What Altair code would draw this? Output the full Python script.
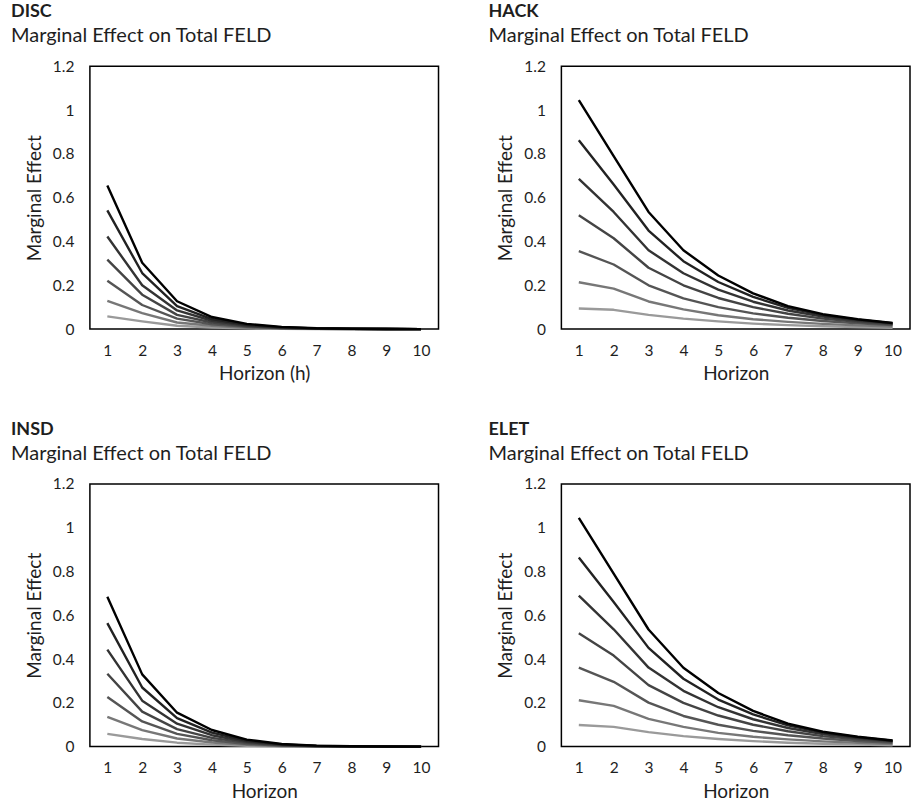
import altair as alt
import pandas as pd

HORIZON = [1, 2, 3, 4, 5, 6, 7, 8, 9, 10]
SERIES = ["s1", "s2", "s3", "s4", "s5", "s6", "s7"]  # lightest -> darkest
GRAYS = ["#9a9a9a", "#777777", "#555555", "#444444", "#333333", "#222222", "#000000"]

DISC = [
    [0.058, 0.035, 0.015, 0.007, 0.003, 0.0015, 0.0007, 0.0003, 0.0001, 0.0],
    [0.129, 0.073, 0.030, 0.015, 0.006, 0.003, 0.0012, 0.0005, 0.0002, 0.0],
    [0.221, 0.110, 0.048, 0.022, 0.010, 0.004, 0.0017, 0.0007, 0.0003, 0.0],
    [0.317, 0.157, 0.065, 0.030, 0.013, 0.005, 0.0022, 0.0009, 0.0004, 0.0],
    [0.423, 0.200, 0.085, 0.038, 0.016, 0.007, 0.0027, 0.0011, 0.0004, 0.0],
    [0.542, 0.256, 0.105, 0.046, 0.020, 0.008, 0.0032, 0.0013, 0.0005, 0.0],
    [0.656, 0.303, 0.127, 0.055, 0.024, 0.010, 0.0040, 0.0016, 0.0006, 0.0],
]

HACK = [
    [0.094, 0.088, 0.065, 0.048, 0.035, 0.025, 0.018, 0.013, 0.009, 0.006],
    [0.214, 0.185, 0.126, 0.090, 0.063, 0.045, 0.033, 0.024, 0.017, 0.012],
    [0.356, 0.295, 0.200, 0.140, 0.100, 0.072, 0.052, 0.037, 0.026, 0.018],
    [0.520, 0.415, 0.280, 0.200, 0.142, 0.100, 0.070, 0.048, 0.033, 0.022],
    [0.686, 0.535, 0.360, 0.255, 0.180, 0.125, 0.085, 0.057, 0.039, 0.025],
    [0.862, 0.660, 0.450, 0.310, 0.215, 0.147, 0.097, 0.064, 0.043, 0.027],
    [1.046, 0.790, 0.535, 0.360, 0.245, 0.163, 0.105, 0.068, 0.045, 0.028],
]

INSD = [
    [0.058, 0.035, 0.018, 0.009, 0.004, 0.002, 0.0008, 0.0003, 0.0001, 0.0],
    [0.136, 0.075, 0.037, 0.019, 0.008, 0.003, 0.0012, 0.0005, 0.0002, 0.0],
    [0.227, 0.115, 0.058, 0.029, 0.012, 0.005, 0.0018, 0.0007, 0.0003, 0.0],
    [0.333, 0.160, 0.080, 0.040, 0.017, 0.006, 0.0024, 0.0009, 0.0004, 0.0],
    [0.443, 0.210, 0.105, 0.052, 0.022, 0.008, 0.0030, 0.0011, 0.0004, 0.0],
    [0.564, 0.270, 0.130, 0.064, 0.027, 0.010, 0.0036, 0.0013, 0.0005, 0.0],
    [0.685, 0.330, 0.155, 0.076, 0.032, 0.012, 0.0045, 0.0016, 0.0006, 0.0],
]

ELET = [
    [0.099, 0.090, 0.066, 0.048, 0.035, 0.025, 0.018, 0.013, 0.009, 0.006],
    [0.212, 0.186, 0.127, 0.090, 0.063, 0.045, 0.033, 0.024, 0.017, 0.012],
    [0.361, 0.296, 0.201, 0.140, 0.100, 0.072, 0.052, 0.037, 0.026, 0.018],
    [0.518, 0.416, 0.281, 0.200, 0.142, 0.100, 0.070, 0.048, 0.033, 0.022],
    [0.690, 0.536, 0.361, 0.255, 0.180, 0.125, 0.085, 0.057, 0.039, 0.025],
    [0.864, 0.661, 0.451, 0.310, 0.215, 0.147, 0.097, 0.064, 0.043, 0.027],
    [1.045, 0.790, 0.535, 0.360, 0.245, 0.163, 0.105, 0.068, 0.045, 0.028],
]

Y_TICKS = [0, 0.2, 0.4, 0.6, 0.8, 1.0, 1.2]
TEXT = "#1e1e1e"
FONT = "Lato"
W, H = 349, 263


def to_frame(values):
    rows = []
    for name, series in zip(SERIES, values):
        for h, v in zip(HORIZON, series):
            rows.append({"h": h, "v": v, "s": name})
    return pd.DataFrame(rows)


def panel(name, values, xtitle, title_dx):
    return (
        alt.Chart(to_frame(values))
        .mark_line(strokeWidth=2.4, interpolate="linear", strokeJoin="round")
        .encode(
            x=alt.X("h:Q", title=xtitle,
                    scale=alt.Scale(domain=[0.5, 10.5], nice=False, zero=False),
                    axis=alt.Axis(values=HORIZON, format="d", grid=False, domain=False,
                                  ticks=False, labelPadding=14, titlePadding=6,
                                  labelFontSize=15.5)),
            y=alt.Y("v:Q", title="Marginal Effect",
                    scale=alt.Scale(domain=[0, 1.2], nice=False),
                    axis=alt.Axis(values=Y_TICKS, format="~g", grid=False, domain=False,
                                  ticks=False, labelPadding=16, titlePadding=8,
                                  labelFontSize=15.5)),
            color=alt.Color("s:N", scale=alt.Scale(domain=SERIES, range=GRAYS), legend=None),
            order=alt.Order("h:Q"),
        )
        .properties(
            width=W, height=H,
            title=alt.Title(text=name, subtitle="Marginal Effect on Total FELD",
                            anchor="start", frame="group", dx=title_dx, offset=13,
                            fontSize=18, fontWeight="bold", color=TEXT,
                            subtitleFontSize=20, subtitleColor=TEXT, subtitlePadding=5,
                            font=FONT, subtitleFont=FONT),
        )
    )


row1 = alt.hconcat(panel("DISC", DISC, "Horizon (h)", -79), panel("HACK", HACK, "Horizon", -73),
                   spacing=123, bounds="flush")
row2 = alt.hconcat(panel("INSD", INSD, "Horizon", -79), panel("ELET", ELET, "Horizon", -73),
                   spacing=123, bounds="flush")

chart = (
    alt.vconcat(row1, row2, spacing=35)
    .properties(padding={"left": 10, "top": 2, "right": 0, "bottom": 0})
    .configure(font=FONT)
    .configure_view(stroke="#000000", strokeWidth=1.5)
    .configure_axis(labelFont=FONT, titleFont=FONT, titleFontSize=19,
                    labelColor=TEXT, titleColor=TEXT, titleFontWeight="normal")
)

chart.save("out.html", embed_options={"renderer": "svg", "actions": False})
